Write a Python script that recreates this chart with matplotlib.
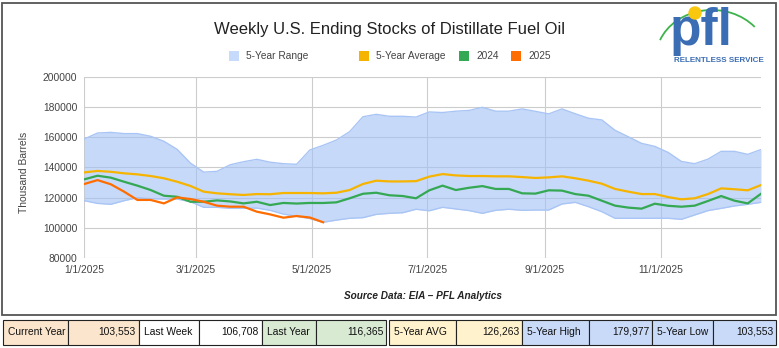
import matplotlib
matplotlib.use("Agg")
import matplotlib.pyplot as plt
import matplotlib.dates as mdates
from matplotlib.patches import Rectangle, Arc, Circle
import pandas as pd

plt.rcParams["font.family"] = ["Liberation Sans", "DejaVu Sans"]

# weekly distillate stocks, thousand barrels
weeks = pd.date_range("2025-01-01", periods=52, freq="7D")

range_high = [158900, 162900, 163300, 162500, 162500, 160700, 157400, 152000, 142900, 136900,
              137400, 141800, 143800, 145400, 143500, 142500, 142100, 151600, 154700, 158200,
              163800, 173700, 175300, 174000, 174000, 173500, 176900, 176500, 177400, 177900,
              179977, 177400, 177400, 178900, 177300, 175600, 178900, 175700, 172700, 171600,
              164700, 160400, 156000, 154000, 150000, 144000, 142500, 145500, 150700, 150700,
              148700, 151900]
range_low = [117900, 116100, 115500, 117900, 119900, 119200, 119000, 119000, 117200, 113500,
             113500, 112800, 112800, 113000, 111500, 109000, 107500, 106000, 103553, 105000,
             106200, 106600, 108800, 109500, 109900, 112200, 111200, 113500, 112400, 111300,
             109500, 111500, 112200, 111500, 111700, 111700, 115700, 116800, 113900, 110600,
             106200, 106200, 106200, 106200, 106200, 105500, 108400, 111300, 112800, 114400,
             115500, 116800]
avg_5yr = [136700, 137700, 137100, 136100, 135400, 134300, 132800, 130500, 127700, 123900,
           122800, 122200, 121700, 122300, 122200, 123000, 123000, 123000, 122800, 123200,
           125000, 129000, 131200, 130700, 130700, 130900, 133900, 135600, 134700, 134300,
           134300, 134100, 134100, 133600, 133000, 133400, 134100, 132800, 131200, 129200,
           125700, 123900, 122300, 122300, 120300, 118800, 119500, 122300, 126100, 125500,
           124800, 128300]
stocks_2024 = [132100, 134500, 133200, 130500, 127900, 125000, 121200, 120500, 117200, 117200,
               118100, 117400, 116100, 117200, 115000, 116400, 116000, 116400, 116365, 116800,
               119500, 122500, 123200, 121500, 121000, 119500, 124800, 127900, 125000, 126500,
               127600, 125700, 125700, 122800, 122600, 124800, 124600, 122300, 121200, 117900,
               114600, 113300, 112600, 115900, 114500, 113900, 114600, 117700, 121000, 117900,
               116100, 122500]
stocks_2025 = [129000, 131600, 128800, 123900, 118400, 118400, 116100, 120100, 119000, 117200,
               114600, 113900, 113900, 110600, 108800, 106600, 107700, 106708, 103553]
avg_5yr_summary = 126263

legend_labels = ["5-Year Range", "5-Year Average", "2024", "2025"]
colors = ["#a4c2f4", "#f6b400", "#34a853", "#ff6d01"]

W, H = 779, 348
fig = plt.figure(figsize=(W / 100, H / 100), dpi=100)

# background layer in pixel units for frame, legend, logo and summary table
bg = fig.add_axes([0, 0, 1, 1])
bg.set_xlim(0, W)
bg.set_ylim(H, 0)
bg.axis("off")
bg.add_patch(Rectangle((2.5, 2.5), 773.5, 312.5, fill=False, ec="#555555", lw=1.3))

# plot area
x0, x1, ytop, ybot = 84.3, 761, 77.2, 257.7
ax = fig.add_axes([x0 / W, 1 - ybot / H, (x1 - x0) / W, (ybot - ytop) / H])
ax.set_facecolor("none")
ax.set_zorder(2)

ax.fill_between(weeks, range_low, range_high, color=colors[0], alpha=0.62, lw=0, zorder=2)
ax.plot(weeks, range_high, color="#a9c5f5", lw=1.0, zorder=2.5)
ax.plot(weeks, range_low, color="#a9c5f5", lw=1.0, zorder=2.5)
ax.plot(weeks, avg_5yr, color=colors[1], lw=1.6, zorder=3, solid_joinstyle="round")
ax.plot(weeks, stocks_2024, color=colors[2], lw=1.6, zorder=4, solid_joinstyle="round")
ax.plot(weeks[:len(stocks_2025)], stocks_2025, color=colors[3], lw=1.6, zorder=5,
        solid_joinstyle="round")

ax.set_xlim(weeks[0], weeks[-1])
ax.set_ylim(80000, 200000)
ax.set_yticks(range(80000, 200001, 20000))
ax.yaxis.set_major_formatter(matplotlib.ticker.FuncFormatter(lambda v, p: f"{int(v)}"))
ax.xaxis.set_major_locator(mdates.MonthLocator(bymonth=[1, 3, 5, 7, 9, 11]))
ax.xaxis.set_major_formatter(mdates.DateFormatter("%-m/%-d/%Y"))
ax.tick_params(length=0, labelsize=7.4, labelcolor="#444444", pad=5)
ax.grid(True, color="#cccccc", lw=0.8, zorder=0)
ax.set_axisbelow(True)
for s in ax.spines.values():
    s.set_visible(False)
ax.set_ylabel("Thousand Barrels", fontsize=7.4, color="#444444")
ax.yaxis.set_label_coords((29 - x0) / (x1 - x0), 0.47)

fig.text(389 / W, 1 - 29.3 / H, "Weekly U.S. Ending Stocks of Distillate Fuel Oil",
         fontsize=12, color="#222222", ha="center", va="center")
fig.text(422.5 / W, 1 - 296 / H, "Source Data: EIA \u2013 PFL Analytics", fontsize=7.2,
         fontweight="bold", fontstyle="italic", color="#222222", ha="center", va="center")

# legend row
legend_x = [229, 359, 459, 511.5]
legend_fill = ["#c6dafc"] + colors[1:]
for lx, lab, fc in zip(legend_x, legend_labels, legend_fill):
    bg.add_patch(Rectangle((lx, 50.7), 10, 10, fc=fc, ec="none"))
    bg.text(lx + 17, 55.7, lab, fontsize=7.3, color="#444444", ha="left", va="center")

# pfl logo
bg.add_patch(Arc((712, 58), 112, 96, theta1=199, theta2=324, color="#3cb44a", lw=1.3))
bg.text(670, 45, "pfl", fontsize=37, fontweight="bold", color="#3b6db4",
        ha="left", va="baseline")
bg.add_patch(Circle((695, 13), 6, color="#f9c80e", zorder=3))
bg.text(674, 60.5, "RELENTLESS SERVICE", fontsize=5.8, fontweight="bold",
        color="#3b6db4", ha="left", va="center")

# summary table
table_labels = ["Current Year", "Last Week", "Last Year", "5-Year AVG", "5-Year High", "5-Year Low"]
table_values = [stocks_2025[-1], stocks_2025[-2], stocks_2024[len(stocks_2025) - 1],
                avg_5yr_summary, max(range_high), min(range_low)]
table_fill = ["#fce5cd", "#ffffff", "#d9ead3", "#fff2cc", "#c9daf8", "#c9daf8"]
cells = [(3.3, 68.3, 138.7), (138.7, 199.3, 261.7), (262.5, 315.7, 386.5),
         (389.0, 455.7, 522.3), (522.3, 589, 652.3), (652.3, 712.7, 776.5)]
ty0, ty1 = 319.5, 344.5
for (a, b, c), lab, val, fc in zip(cells, table_labels, table_values, table_fill):
    bg.add_patch(Rectangle((a, ty0), b - a, ty1 - ty0, fc=fc, ec="#222222", lw=0.8))
    bg.add_patch(Rectangle((b, ty0), c - b, ty1 - ty0, fc=fc, ec="#222222", lw=0.8))
    bg.text(a + 5, (ty0 + ty1) / 2, lab, fontsize=7.4, ha="left", va="center", color="#111111")
    bg.text(c - 3, (ty0 + ty1) / 2, f"{val:,}", fontsize=7.4, ha="right", va="center",
            color="#111111")

fig.savefig("out.png", dpi=100)
